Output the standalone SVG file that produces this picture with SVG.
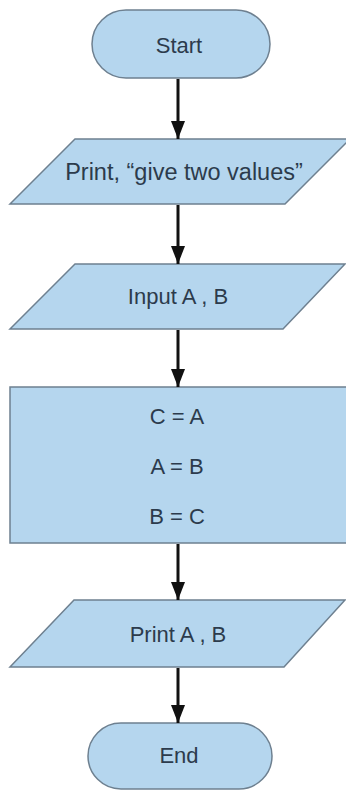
<svg xmlns="http://www.w3.org/2000/svg" width="346" height="791" viewBox="0 0 346 791">
<style>
.shape{fill:#b5d6ee;stroke:#6e8090;stroke-width:1.5}
.lbl{font-family:"Liberation Sans",Arial,sans-serif;font-size:22px;fill:#2c3b4c;text-anchor:middle}
.conn{stroke:#111;stroke-width:3;fill:none}
</style>
<defs>
<marker id="arr" markerUnits="userSpaceOnUse" markerWidth="18" markerHeight="14" viewBox="0 0 18 14" refX="18" refY="7" orient="auto">
<path d="M0,0 L18,7 L0,14 Z" fill="#111"/>
</marker>
</defs>
<rect width="346" height="791" fill="#ffffff"/>
<g id="start">
<rect class="shape" x="92" y="10" width="178" height="68" rx="34" ry="34"/>
<text class="lbl" x="179" y="53">Start</text>
</g>
<g id="print1">
<polygon class="shape" points="75,139 350,139 285,204 10,204"/>
<text class="lbl" x="184" y="180" style="font-size:23.5px">Print, “give two values”</text>
</g>
<g id="input">
<polygon class="shape" points="75,264 345,264 283,329 10,329"/>
<text class="lbl" x="178" y="304">Input A , B</text>
</g>
<g id="process">
<rect class="shape" x="10" y="387" width="345" height="156"/>
<text class="lbl" x="177" y="424">C = A</text>
<text class="lbl" x="177" y="474">A = B</text>
<text class="lbl" x="177" y="524">B = C</text>
</g>
<g id="print2">
<polygon class="shape" points="74,600 345,600 284,667 10,667"/>
<text class="lbl" x="178" y="642">Print A , B</text>
</g>
<g id="end">
<rect class="shape" x="88" y="723" width="184" height="66" rx="33" ry="33"/>
<text class="lbl" x="179" y="763">End</text>
</g>
<g id="connectors">
<line class="conn" x1="178" y1="79" x2="178" y2="139" marker-end="url(#arr)"/>
<line class="conn" x1="178" y1="205" x2="178" y2="264" marker-end="url(#arr)"/>
<line class="conn" x1="178" y1="330" x2="178" y2="387" marker-end="url(#arr)"/>
<line class="conn" x1="178" y1="544" x2="178" y2="600" marker-end="url(#arr)"/>
<line class="conn" x1="178" y1="668" x2="178" y2="723" marker-end="url(#arr)"/>
</g>
</svg>
